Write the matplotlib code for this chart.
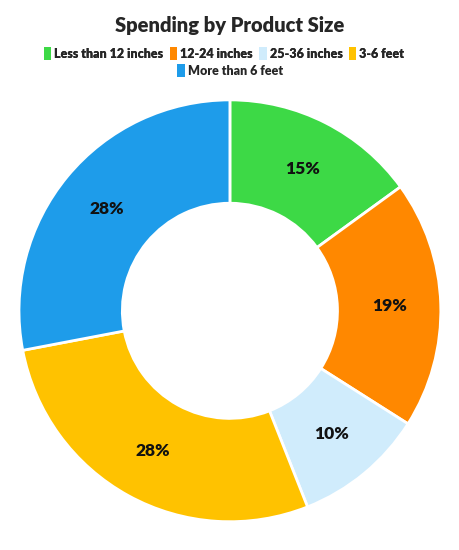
import matplotlib.pyplot as plt
from matplotlib.patches import Patch

plt.rcParams['font.family'] = ['Lato', 'DejaVu Sans']

sizes = ['Less than 12 inches', '12-24 inches', '25-36 inches', '3-6 feet', 'More than 6 feet']
shares = [15, 19, 10, 28, 28]
colors = ['#3dd946', '#ff8800', '#d0ecfc', '#ffc200', '#1e9cea']

fig = plt.figure(figsize=(4.6, 5.5), dpi=100)
ax = fig.add_axes([0.0413, 0.0514, 0.917, 0.767])

wedges, texts, autotexts = ax.pie(
    shares, colors=colors, startangle=90, counterclock=False,
    radius=1.0, pctdistance=0.757,
    autopct=lambda p: '{:.0f}%'.format(p),
    wedgeprops=dict(width=0.49, edgecolor='white', linewidth=2, joinstyle='round'),
)
for t in autotexts:
    t.set_fontsize(12.5)
    t.set_fontweight('heavy')
    t.set_color('#111111')
ax.set_aspect('equal')
ax.set_xlim(-1.0, 1.0)
ax.set_ylim(-1.0, 1.0)

fig.text(0.5, 0.953, 'Spending by Product Size', ha='center', va='center',
         fontsize=14.5, fontweight='heavy', color='#262626')

handles = [Patch(facecolor=c, edgecolor='none') for c in colors]
leg_font = dict(size=9, weight='heavy')
leg1 = fig.legend(handles[:4], sizes[:4], loc='center', bbox_to_anchor=(0.487, 0.903),
                  ncol=4, frameon=False, handlelength=0.6, handleheight=1.2,
                  handletextpad=0.25, columnspacing=0.5, prop=leg_font)
for t in leg1.get_texts():
    t.set_color('#262626')
leg2 = fig.legend(handles[4:], sizes[4:], loc='center', bbox_to_anchor=(0.5, 0.872),
                  ncol=1, frameon=False, handlelength=0.6, handleheight=1.2,
                  handletextpad=0.25, prop=leg_font)
for t in leg2.get_texts():
    t.set_color('#262626')
fig.add_artist(leg1)

fig.savefig('out.png', dpi=100, facecolor='white')
